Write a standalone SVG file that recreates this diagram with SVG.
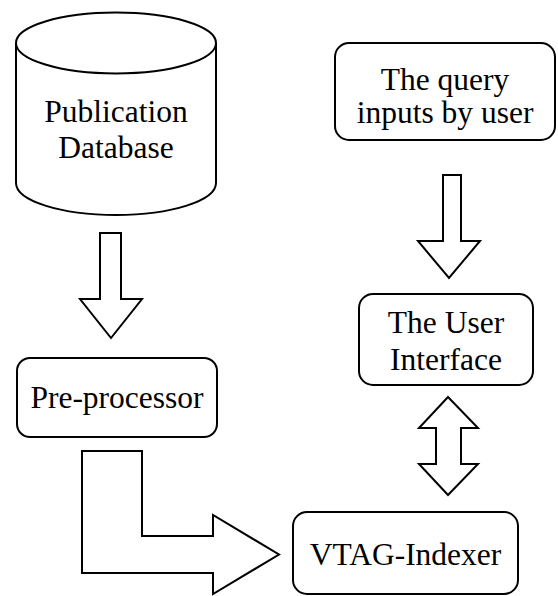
<svg xmlns="http://www.w3.org/2000/svg" width="558" height="596" viewBox="0 0 558 596">
  <style>
    .shape { fill: #ffffff; stroke: #000000; stroke-width: 2; stroke-linejoin: miter; }
    .label { font-family: "Liberation Serif", "Times New Roman", serif; font-size: 31.5px; fill: #000000; text-anchor: middle; }
  </style>
  <rect x="0" y="0" width="558" height="596" fill="#ffffff"/>

  <!-- block arrows -->
  <g id="connectors">
    <!-- database to pre-processor -->
    <path class="shape" d="M100,233 L121,233 L121,299 L142,299 L111,338 L80,299 L100,299 Z"/>
    <!-- pre-processor to indexer (elbow) -->
    <path class="shape" d="M82,451 L142,451 L142,536 L213,536 L213,515 L279,554.5 L213,594 L213,573 L82,573 Z"/>
    <!-- query to user interface -->
    <path class="shape" d="M443,175 L461,175 L461,241 L480,241 L449,278 L418,241 L443,241 Z"/>
    <!-- user interface to/from indexer -->
    <path class="shape" d="M448,397 L478,428 L461,428 L461,464 L478,464 L448,495 L419,464 L436,464 L436,428 L419,428 Z"/>
  </g>

  <g id="publication-database">
    <path class="shape" d="M16,43 L16,183 A100,32 0 0 0 216,183 L216,43"/>
    <ellipse class="shape" cx="116" cy="43" rx="100" ry="30.5"/>
    <text class="label" x="116" y="122">Publication</text>
    <text class="label" x="116" y="158">Database</text>
  </g>

  <g id="pre-processor">
    <rect class="shape" x="17" y="358" width="200" height="79" rx="13" ry="13"/>
    <text class="label" x="117" y="408">Pre-processor</text>
  </g>

  <g id="query-inputs">
    <rect class="shape" x="335" y="43" width="220" height="97" rx="14" ry="14"/>
    <text class="label" x="445" y="90">The query</text>
    <text class="label" x="445" y="123">inputs by user</text>
  </g>

  <g id="user-interface">
    <rect class="shape" x="359" y="294" width="174" height="91" rx="14" ry="14"/>
    <text class="label" x="446" y="333">The User</text>
    <text class="label" x="446" y="370">Interface</text>
  </g>

  <g id="vtag-indexer">
    <rect class="shape" x="293" y="512" width="225" height="82" rx="14" ry="14"/>
    <text class="label" x="405.5" y="565">VTAG-Indexer</text>
  </g>
</svg>
